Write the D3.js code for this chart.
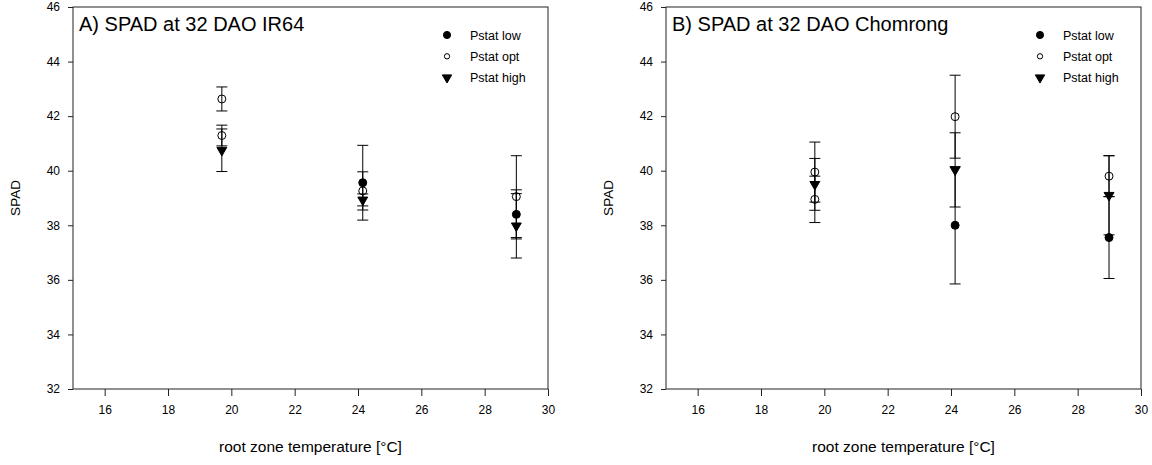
<!DOCTYPE html>
<html>
<head>
<meta charset="utf-8">
<script src="https://cdn.jsdelivr.net/npm/d3@7"></script>
<style>
  body { margin: 0; background: #fff; }
  svg { display: block; font-family: "Liberation Sans", Arial, sans-serif; }
</style>
</head>
<body>
<svg id="chart" width="1152" height="465"></svg>
<script>
// values: [temperature, mean SPAD, error]
var lowA  = [[24.15, 39.56, 1.37], [29.0, 38.4, 0.9]];
var optA  = [[19.7, 42.63, 0.44], [19.7, 41.29, 0.38], [24.15, 39.26, 0.70], [29.0, 39.05, 1.5]];
var highA = [[19.7, 40.75, 0.78], [24.15, 38.93, 0.22], [29.0, 37.98, 1.18]];

var lowB  = [[24.13, 38.0, 2.15], [28.99, 37.55, 1.5]];
var optB  = [[19.7, 39.95, 1.1], [19.7, 38.95, 0.85], [24.13, 41.98, 1.52], [28.99, 39.8, 0.75]];
var highB = [[19.7, 39.5, 0.95], [24.13, 40.03, 1.36], [28.99, 39.1, 1.45]];

var seriesNames = ["Pstat low", "Pstat opt", "Pstat high"];
var xTicks = [16, 18, 20, 22, 24, 26, 28, 30];
var yTicks = [32, 34, 36, 38, 40, 42, 44, 46];
var xLabel = "root zone temperature [°C]";
var yLabel = "SPAD";

var svg = d3.select("#chart");

// shape for each series
function symbolFor(k) {
    if (k === 2) return d3.symbol(d3.symbolTriangle, 42)();
    return d3.symbol(d3.symbolCircle, 50)();
}

function panel(left, title, data) {
    var w = 475, top = 7, bottom = 389;
    var x = d3.scaleLinear().domain([15, 30]).range([left, left + w]);
    var y = d3.scaleLinear().domain([32, 46]).range([bottom, top]);
    var g = svg.append("g");

    // frame
    g.append("rect")
        .attr("x", left).attr("y", top)
        .attr("width", w).attr("height", bottom - top)
        .attr("fill", "none").attr("stroke", "#222").attr("stroke-width", 1);

    var ax = g.append("g")
        .attr("transform", "translate(0," + bottom + ")")
        .call(d3.axisBottom(x).tickValues(xTicks).tickSize(7).tickPadding(9));
    var ay = g.append("g")
        .attr("transform", "translate(" + left + ",0)")
        .call(d3.axisLeft(y).tickValues(yTicks).tickSize(5).tickPadding(8));
    [ax, ay].forEach(function(a) {
        a.select(".domain").remove();
        a.selectAll("text").attr("font-size", 12).attr("fill", "#000")
            .attr("font-family", "Liberation Sans, Arial, sans-serif");
        a.selectAll("line").attr("stroke", "#222");
    });

    // error bars then symbols
    data.forEach(function(pts, k) {
        var eb = g.append("g").attr("stroke", "#000").attr("stroke-width", 1);
        pts.forEach(function(p) {
            var cx = x(p[0]);
            eb.append("line").attr("x1", cx).attr("x2", cx)
                .attr("y1", y(p[1] + p[2])).attr("y2", y(p[1] - p[2]));
            [p[1] + p[2], p[1] - p[2]].forEach(function(v) {
                eb.append("line").attr("x1", cx - 5.5).attr("x2", cx + 5.5)
                    .attr("y1", y(v)).attr("y2", y(v));
            });
        });
    });
    data.forEach(function(pts, k) {
        g.selectAll(null).data(pts).enter().append("path")
            .attr("d", symbolFor(k))
            .attr("transform", function(p) {
                return "translate(" + x(p[0]) + "," + y(p[1]) + ")" + (k === 2 ? " rotate(180)" : "");
            })
            .attr("fill", k === 1 ? "none" : "#000")
            .attr("stroke", "#000").attr("stroke-width", 1);
    });

    // title
    g.append("text").attr("x", left + 6).attr("y", 31)
        .attr("font-size", 20).text(title);

    // legend
    var lg = g.append("g");
    seriesNames.forEach(function(name, k) {
        var ly = 35 + k * 21.3;
        lg.append("path")
            .attr("d", k === 1 ? d3.symbol(d3.symbolCircle, 22)() : (k === 2 ? d3.symbol(d3.symbolTriangle, 38)() : d3.symbol(d3.symbolCircle, 40)()))
            .attr("transform", "translate(" + (left + 374) + "," + ly + ")" + (k === 2 ? " rotate(180)" : ""))
            .attr("fill", k === 1 ? "#fff" : "#000").attr("stroke", "#000");
        lg.append("text").attr("x", left + 397).attr("y", ly + 4.5)
            .attr("font-size", 12.5).text(name);
    });

    // axis titles
    g.append("text").attr("x", left + w / 2).attr("y", 452)
        .attr("text-anchor", "middle").attr("font-size", 15.5).text(xLabel);
    g.append("text")
        .attr("transform", "translate(" + (left - 53) + "," + ((top + bottom) / 2) + ") rotate(-90)")
        .attr("text-anchor", "middle").attr("font-size", 13.5).text(yLabel);
}

panel(73, "A) SPAD at 32 DAO IR64", [lowA, optA, highA]);
panel(666, "B) SPAD at 32 DAO Chomrong", [lowB, optB, highB]);
</script>
</body>
</html>
